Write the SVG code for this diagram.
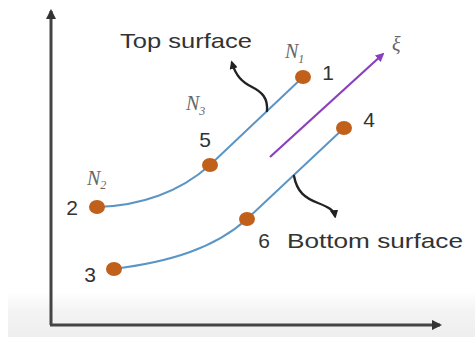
<svg xmlns="http://www.w3.org/2000/svg" width="475" height="337" viewBox="0 0 475 337">
<defs>
<linearGradient id="band" x1="0" y1="0" x2="0" y2="1">
<stop offset="0" stop-color="#ffffff"/>
<stop offset="0.4" stop-color="#f4f4f4"/>
<stop offset="1" stop-color="#eeeeee"/>
</linearGradient>
<marker id="axisHead" viewBox="0 0 10 10" refX="8" refY="5" markerWidth="3.5" markerHeight="3.5" orient="auto" markerUnits="strokeWidth">
<path d="M0,0 L10,5 L0,10 Z" fill="#333"/>
</marker>
<marker id="purpleHead" viewBox="0 0 10 10" refX="8" refY="5" markerWidth="4" markerHeight="4" orient="auto" markerUnits="strokeWidth">
<path d="M0,0 L10,5 L0,10 Z" fill="#8a3fc0"/>
</marker>
<marker id="calloutHead" viewBox="0 0 10 10" refX="7" refY="5" markerWidth="3.5" markerHeight="3.5" orient="auto" markerUnits="strokeWidth">
<path d="M0,0 L10,5 L0,10 Z" fill="#222"/>
</marker>
<style>
.surf{fill:none;stroke:#5b95c5;stroke-width:2}
.axis{fill:none;stroke:#444;stroke-width:3}
.call{fill:none;stroke:#222;stroke-width:2.4;stroke-linecap:round}
.dot{fill:#c0601a}
.num{font-family:"Liberation Sans",Arial,sans-serif;font-size:21px;fill:#333;text-anchor:middle}
.lbl{font-family:"Liberation Sans",Arial,sans-serif;font-size:21px;fill:#333}
.nl{font-family:"Liberation Serif","Times New Roman",serif;font-style:italic;font-size:20px;fill:#666}
.sub{font-size:12px}
</style>
</defs>
<rect x="0" y="0" width="475" height="337" fill="#ffffff"/>
<rect x="8" y="292" width="467" height="45" fill="url(#band)"/>

<g id="connectors">
<path class="axis" d="M51,325 L51,11" marker-end="url(#axisHead)"/>
<path class="axis" d="M50,325 L440,325" marker-end="url(#axisHead)"/>
<path class="surf" d="M97,207 C140,206 180,192 210,165 L303,77"/>
<path class="surf" d="M113,269 C170,262 215,248 247,219 L344,128"/>
<path d="M270,157 L383,54" fill="none" stroke="#8a3fc0" stroke-width="2.2" marker-end="url(#purpleHead)"/>
<path class="call" d="M267,111 C268,98 262,92 252,87 C242,82 236,76 232,63" marker-end="url(#calloutHead)"/>
<path class="call" d="M294,176 C297,192 305,198 318,203 C328,207 334,210 335,216" marker-end="url(#calloutHead)"/>
</g>

<g id="node-1">
<ellipse class="dot" cx="303" cy="77" rx="8" ry="7"/>
<text class="num" x="328" y="80">1</text>
<text class="nl" x="285" y="58">N<tspan class="sub" dy="5">1</tspan></text>
</g>
<g id="node-2">
<ellipse class="dot" cx="97" cy="207" rx="8" ry="7"/>
<text class="num" x="72" y="215">2</text>
<text class="nl" x="87" y="185">N<tspan class="sub" dy="4">2</tspan></text>
</g>
<g id="node-3">
<ellipse class="dot" cx="114" cy="269" rx="8" ry="7"/>
<text class="num" x="90" y="282">3</text>
</g>
<g id="node-4">
<ellipse class="dot" cx="344" cy="128" rx="8" ry="7"/>
<text class="num" x="369" y="127">4</text>
</g>
<g id="node-5">
<ellipse class="dot" cx="210" cy="165" rx="8" ry="7"/>
<text class="num" x="205" y="147">5</text>
<text class="nl" x="186" y="110">N<tspan class="sub" dy="5">3</tspan></text>
</g>
<g id="node-6">
<ellipse class="dot" cx="247" cy="219" rx="8" ry="7"/>
<text class="num" x="264" y="248">6</text>
</g>

<g id="labels">
<text class="lbl" x="120" y="48" textLength="132" lengthAdjust="spacingAndGlyphs">Top surface</text>
<text class="lbl" x="287" y="248" textLength="176" lengthAdjust="spacingAndGlyphs">Bottom surface</text>
<text class="nl" x="392" y="51" font-size="22">ξ</text>
</g>
</svg>
